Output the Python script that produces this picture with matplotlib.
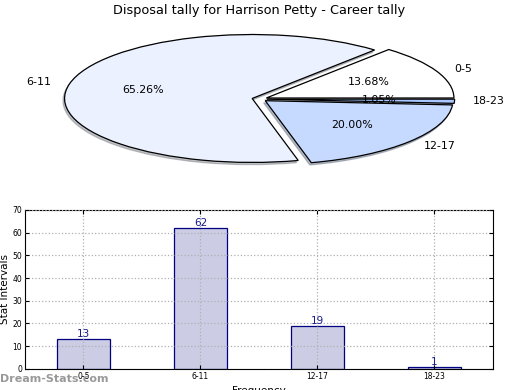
import numpy as np
import matplotlib
matplotlib.use('Agg')
import matplotlib.pyplot as plt


labels = ['0-5', '6-11', '12-17', '18-23']
counts = [13, 62, 19, 1]
pie_colors = ['#ffffff', '#ebf1ff', '#c6d9ff', '#a9c6ff']

title = 'Disposal tally for Harrison Petty - Career tally'

fig = plt.figure(figsize=(5.2, 3.9), dpi=100)

# pie on top, not kept round
ax1 = fig.add_axes([0.048, 0.541, 0.902, 0.41])
wedges, texts, autotexts = ax1.pie(counts, labels=labels, colors=pie_colors,
                                   explode=[0.04] * 4,
                                   shadow={'ox': -0.006, 'oy': -0.025, 'shade': 0.45},
                                   startangle=0, autopct='%.2f%%',
                                   wedgeprops={'edgecolor': 'black', 'linewidth': 0.9},
                                   textprops={'fontsize': 7.9})
ax1.set_aspect('auto')
ax1.set_xlim(-1.25, 1.25)
ax1.set_ylim(-1.25, 1.25)
ax1.set_title(title, fontsize=9.3, pad=4)

# bar chart below
ax2 = fig.add_axes([0.048, 0.054, 0.9, 0.408])
x = np.arange(len(labels))
bars = ax2.bar(x, counts, width=0.45, color='#ccccE5', edgecolor='navy', linewidth=0.9)
for xi, c in zip(x, counts):
    ax2.text(xi, c, str(c), ha='center', va='bottom', color='#1a1a8c', fontsize=7.5)
ax2.set_xlim(-0.5, 3.5)
ax2.set_ylim(0, 70)
ax2.set_xticks(x)
ax2.set_xticklabels(labels)
ax2.set_yticks(range(0, 71, 10))
ax2.tick_params(labelsize=5.5, direction='in', length=3, top=True, right=True, pad=2)
ax2.grid(True, linestyle=':', color='#b0b0b0', linewidth=0.9)
ax2.set_axisbelow(False)
ax2.set_ylabel('Stat Intervals', fontsize=7.5, labelpad=2)
ax2.set_xlabel('Frequency', fontsize=7.5, labelpad=4)

fig.text(0.0, 0.02, 'Dream-Stats.com', color='#999999', fontsize=8, fontweight='semibold')

fig.savefig('out.png', dpi=100)
